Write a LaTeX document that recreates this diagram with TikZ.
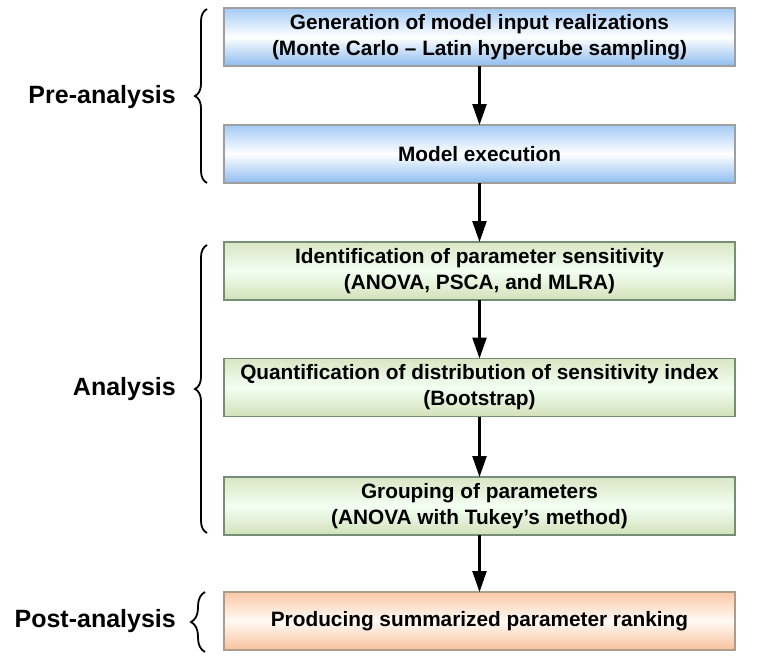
\documentclass[tikz,border=0pt]{standalone}
\usepackage{fontspec}
\setmainfont{Liberation Sans}
\usetikzlibrary{arrows.meta,decorations.pathreplacing}
\definecolor{bluetop}{HTML}{A4CBF6}
\definecolor{bluebot}{HTML}{8CBCF0}
\definecolor{greentop}{HTML}{D9E6C4}
\definecolor{greenbot}{HTML}{D2E1B9}
\definecolor{orangetop}{HTML}{FBC9A6}
\definecolor{orangebot}{HTML}{F9C19C}
\tikzset{
  box/.style={draw=#1, line width=1.3pt, minimum width=511pt, minimum height=58pt,
    inner sep=0pt, outer sep=0pt, align=center,
    font=\fontsize{20.8}{26}\selectfont\bfseries},
  bluebox/.style={box=gray!75, top color=bluetop, bottom color=bluebot, middle color=white},
  greenbox/.style={box=gray!75!green!60!black!70, top color=greentop, bottom color=greenbot, middle color=white!95!green},
  orangebox/.style={box=gray!70!orange!70!black!60, top color=orangetop, bottom color=orangebot, middle color=white!96!orange},
  flow/.style={line width=2.4pt, -{Triangle[length=21pt,width=14pt]}},
  bracestyle/.style={line width=1.8pt, decorate, decoration={brace, amplitude=#1}},
  phase/.style={anchor=east, inner sep=0pt, font=\fontsize{25}{30}\selectfont\bfseries},
}
\begin{document}
\begin{tikzpicture}[x=1pt,y=-1pt]
\useasboundingbox (0,0) rectangle (757,659);
\node[bluebox] (b1) at (479.5,37) {Generation of model input realizations\\(Monte Carlo – Latin hypercube sampling)};
\node[bluebox] (b2) at (479.5,154) {Model execution};
\node[greenbox] (b3) at (479.5,271) {Identification of parameter sensitivity\\(ANOVA, PSCA, and MLRA)};
\node[greenbox] (b4) at (479.5,387.5) {Quantification of distribution of sensitivity index\\(Bootstrap)};
\node[greenbox] (b5) at (479.5,506) {Grouping of parameters\\(ANOVA with Tukey’s method)};
\node[orangebox] (b6) at (479.5,621) {Producing summarized parameter ranking};
\foreach \a/\b in {b1/b2,b2/b3,b3/b4,b4/b5,b5/b6}
  \draw[flow] (\a.south) -- (\b.north);
\coordinate (p1) at (207,183); \coordinate (p2) at (207,9);
\coordinate (a1) at (207,533); \coordinate (a2) at (207,245);
\coordinate (q1) at (205,652); \coordinate (q2) at (205,592);
\draw[bracestyle=12pt] (p1) -- (p2);
\draw[bracestyle=12pt] (a1) -- (a2);
\draw[bracestyle=14pt] (q1) -- (q2);
\node[phase] (l1) at (176,97) {Pre-analysis};
\node[phase] (l2) at (176,389) {Analysis};
\node[phase] (l3) at (176,621) {Post-analysis};
\end{tikzpicture}
\end{document}
